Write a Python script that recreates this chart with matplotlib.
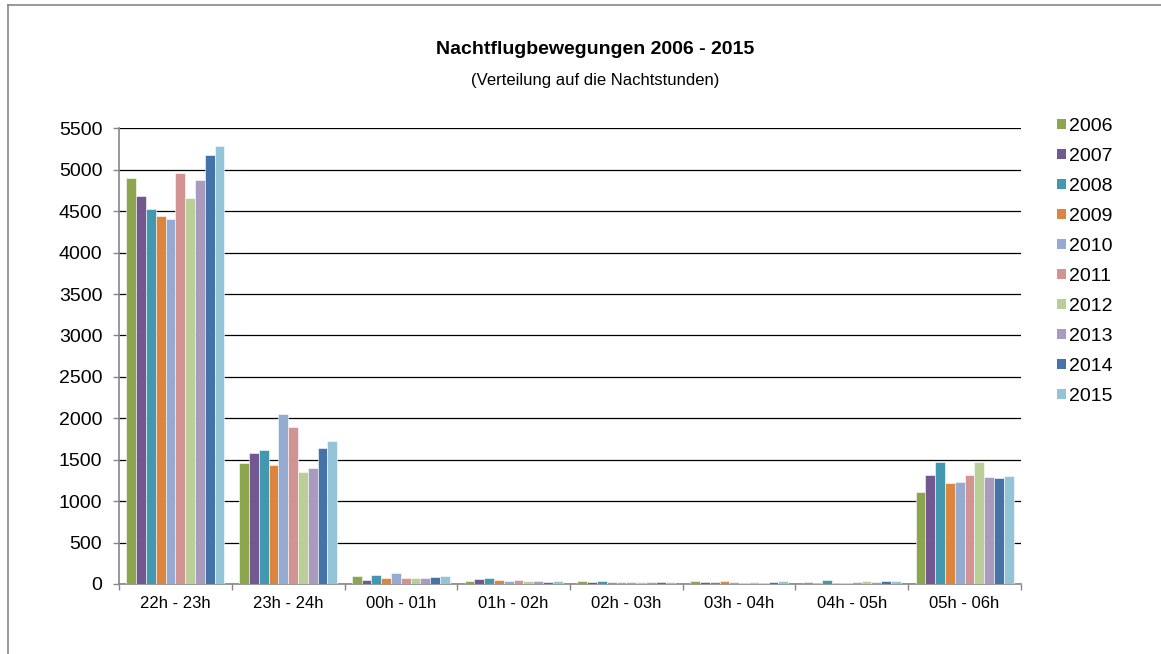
"""
Nachtflugbewegungen 2006 - 2015, verteilt auf die Nachtstunden
"""

import numpy as np
import matplotlib
matplotlib.use('Agg')
import matplotlib.pyplot as plt
from matplotlib.patches import Patch
from matplotlib.lines import Line2D

plt.rcParams['font.family'] = ['Liberation Sans', 'DejaVu Sans']

# Data
hours = ['22h - 23h', '23h - 24h', '00h - 01h', '01h - 02h',
         '02h - 03h', '03h - 04h', '04h - 05h', '05h - 06h']
years = ['2006', '2007', '2008', '2009', '2010',
         '2011', '2012', '2013', '2014', '2015']

v2006 = [4905, 1463, 100, 40, 40, 32, 28, 1114]
v2007 = [4688, 1580, 44, 60, 28, 20, 16, 1311]
v2008 = [4522, 1616, 108, 68, 36, 24, 48, 1467]
v2009 = [4446, 1439, 76, 52, 24, 36, 16, 1222]
v2010 = [4410, 2050, 137, 40, 28, 28, 16, 1234]
v2011 = [4961, 1897, 72, 48, 24, 16, 28, 1319]
v2012 = [4655, 1355, 68, 40, 28, 24, 36, 1467]
v2013 = [4880, 1395, 68, 40, 28, 16, 24, 1286]
v2014 = [5174, 1636, 88, 28, 20, 24, 32, 1282]
v2015 = [5282, 1725, 100, 40, 28, 36, 40, 1306]

series = [v2006, v2007, v2008, v2009, v2010,
          v2011, v2012, v2013, v2014, v2015]

colors = ['#8CA64F', '#72588E', '#4198AF', '#DC853E', '#94AAD0',
          '#D29393', '#BACE97', '#A99BBE', '#4572A7', '#93C4D7']

fig = plt.figure(figsize=(11.61, 6.54), dpi=100)
ax = fig.add_axes([119 / 1161, 1 - 584 / 654, 902 / 1161, (584 - 128.3) / 654])

x = np.arange(len(hours))
bar_w = 0.087
offset0 = -bar_w * (len(years) - 1) / 2
for i, (vals, col) in enumerate(zip(series, colors)):
    ax.bar(x + offset0 + i * bar_w, vals, width=bar_w, color=col,
           edgecolor='white', linewidth=0.4, zorder=3)

ax.set_xlim(-0.5, len(hours) - 0.5)
ax.set_ylim(0, 5500)
ax.set_yticks(np.arange(0, 5501, 500))
ax.yaxis.grid(True, color='black', linewidth=0.9, zorder=0)
ax.set_axisbelow(True)

# category labels centered, ticks between groups
ax.set_xticks(x)
ax.set_xticklabels(hours, fontsize=12)
ax.tick_params(axis='x', length=0, pad=9)
ax.set_xticks(np.arange(-0.5, len(hours)), minor=True)
ax.tick_params(axis='x', which='minor', length=4, color='#868686', width=1)
ax.tick_params(axis='y', length=4, color='#868686', width=1, labelsize=14, pad=8)

for side in ['top', 'right']:
    ax.spines[side].set_visible(False)
for side in ['left', 'bottom']:
    ax.spines[side].set_color('#868686')
    ax.spines[side].set_linewidth(1.2)

# Titles
fig.text(595 / 1161, 1 - 49 / 654, 'Nachtflugbewegungen 2006 - 2015',
         ha='center', va='center', fontsize=14, fontweight='bold')
fig.text(595 / 1161, 1 - 80 / 654, '(Verteilung auf die Nachtstunden)',
         ha='center', va='center', fontsize=12)

# Legend
handles = [Patch(facecolor=c, edgecolor='none') for c in colors]
fig.legend(handles, years, loc='upper left',
           bbox_to_anchor=(1049 / 1161, 1 - 110 / 654),
           frameon=False, fontsize=14, handlelength=0.45, handleheight=0.45,
           handletextpad=0.2, labelspacing=0.67, borderaxespad=0)

# Outer chart frame (top and left edges visible)
fig.add_artist(Line2D([8 / 1161, 1], [1 - 5 / 654, 1 - 5 / 654],
                      transform=fig.transFigure, color='#868686', linewidth=1.2))
fig.add_artist(Line2D([8 / 1161, 8 / 1161], [0, 1 - 5 / 654],
                      transform=fig.transFigure, color='#868686', linewidth=1.2))

fig.savefig('out.png', dpi=100)
